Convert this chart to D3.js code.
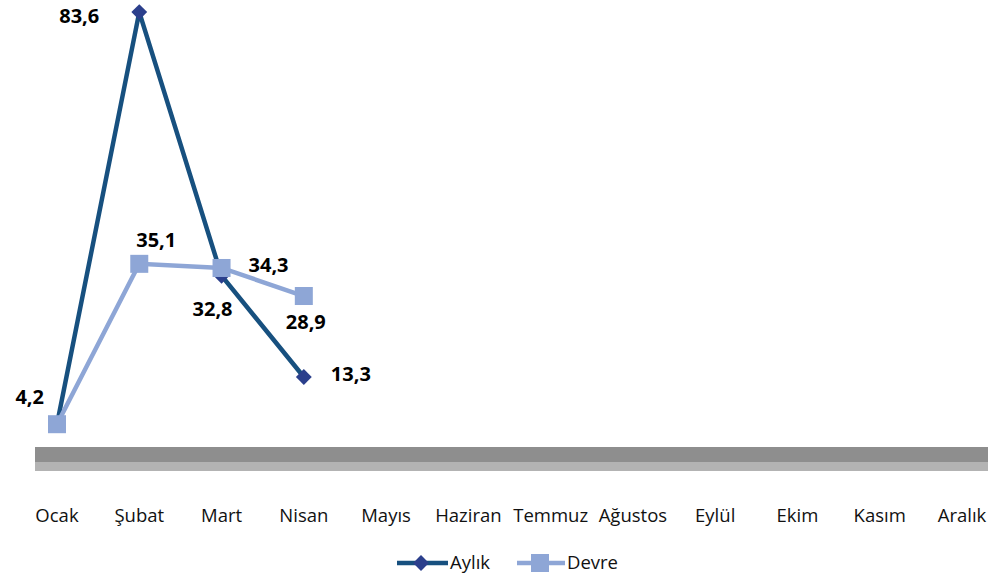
<!DOCTYPE html>
<html>
<head>
<meta charset="utf-8">
<script src="https://cdn.jsdelivr.net/npm/d3@7"></script>
<style>
  body { margin: 0; background: #fff; }
  svg { display: block; font-family: "Open Sans", "Noto Sans", sans-serif; }
</style>
</head>
<body>
<div id="chart"></div>
<script>
const months = ['Ocak', 'Şubat', 'Mart', 'Nisan', 'Mayıs', 'Haziran', 'Temmuz', 'Ağustos', 'Eylül', 'Ekim', 'Kasım', 'Aralık'];
const aylik = [4.2, 83.6, 32.8, 13.3];
const devre = [4.2, 35.1, 34.3, 28.9];
// where each value label sits relative to its point (null = no label)
const aylikLabelPos = ['aboveLeft', 'left', 'belowLeft', 'right'];
const devreLabelPos = [null, 'aboveRight', 'right', 'below'];

const width = 1002, height = 577;

const svg = d3.select('#chart')
  .append('svg')
  .attr('width', width)
  .attr('height', height);

const x = d3.scalePoint()
  .domain(months)
  .range([57, 962]);

const y = d3.scaleLinear()
  .domain([0, 90])
  .range([446, 446 - 90 * 5.19]);

// floor band
svg.append('rect').attr('x', 35).attr('y', 447).attr('width', 953).attr('height', 15).attr('fill', '#8e8e8e');
svg.append('rect').attr('x', 35).attr('y', 462).attr('width', 953).attr('height', 9).attr('fill', '#b3b3b3');

// month labels
svg.append('g')
  .selectAll('text')
  .data(months)
  .enter()
  .append('text')
  .attr('x', d => x(d))
  .attr('y', 522)
  .attr('text-anchor', 'middle')
  .style('font-size', '18.5px')
  .style('fill', '#111')
  .text(d => d);

const line = d3.line()
  .x((d, i) => x(months[i]))
  .y(d => y(d));

const fmt = v => d3.format('.1f')(v).replace('.', ',');

function labelAttrs(pos, px, py) {
  switch (pos) {
    case 'aboveLeft': return { x: px - 13, y: py - 20, anchor: 'end' };
    case 'left': return { x: px - 40, y: py + 11, anchor: 'end' };
    case 'right': return { x: px + 27, y: py + 4, anchor: 'start' };
    case 'belowLeft': return { x: px - 9, y: py + 40, anchor: 'middle' };
    case 'aboveRight': return { x: px + 17, y: py - 17, anchor: 'middle' };
    case 'below': return { x: px + 2, y: py + 33, anchor: 'middle' };
  }
}

function drawLabels(values, positions) {
  svg.append('g')
    .selectAll('text')
    .data(values.map((v, i) => ({ v, i, pos: positions[i] })).filter(d => d.pos))
    .enter()
    .append('text')
    .each(function (d) {
      const a = labelAttrs(d.pos, x(months[d.i]), y(d.v));
      d3.select(this)
        .attr('x', a.x)
        .attr('y', a.y)
        .attr('text-anchor', a.anchor);
    })
    .style('font-size', '20px')
    .style('font-weight', 'bold')
    .style('fill', '#000')
    .text(d => fmt(d.v));
}

const diamond = d3.symbol().type(d3.symbolDiamond2).size(160);

// Aylık
svg.append('path')
  .datum(aylik)
  .attr('d', line)
  .attr('fill', 'none')
  .attr('stroke', '#17507f')
  .attr('stroke-width', 4.5);

svg.append('g')
  .selectAll('path')
  .data(aylik)
  .enter()
  .append('path')
  .attr('d', diamond)
  .attr('transform', (d, i) => `translate(${x(months[i])},${y(d)})`)
  .attr('fill', '#2b3f8c');

// Devre
svg.append('path')
  .datum(devre)
  .attr('d', line)
  .attr('fill', 'none')
  .attr('stroke', '#8ea6d6')
  .attr('stroke-width', 4.5);

svg.append('g')
  .selectAll('rect')
  .data(devre)
  .enter()
  .append('rect')
  .attr('x', (d, i) => x(months[i]) - 9)
  .attr('y', d => y(d) - 9)
  .attr('width', 18)
  .attr('height', 18)
  .attr('fill', '#8ea6d6');

drawLabels(aylik, aylikLabelPos);
drawLabels(devre, devreLabelPos);

// legend
const legend = svg.append('g').attr('transform', 'translate(0,563)');
legend.append('line').attr('x1', 397).attr('x2', 448).attr('y1', 0).attr('y2', 0)
  .attr('stroke', '#17507f').attr('stroke-width', 4.5);
legend.append('path').attr('d', diamond)
  .attr('transform', 'translate(421,0)').attr('fill', '#2b3f8c');
legend.append('text').attr('x', 450).attr('y', 6).style('font-size', '18.5px').style('fill', '#111').text('Aylık');

legend.append('line').attr('x1', 517).attr('x2', 565).attr('y1', 0).attr('y2', 0)
  .attr('stroke', '#8ea6d6').attr('stroke-width', 4.5);
legend.append('rect').attr('x', 531).attr('y', -9).attr('width', 18).attr('height', 18).attr('fill', '#8ea6d6');
legend.append('text').attr('x', 567).attr('y', 6).style('font-size', '18.5px').style('fill', '#111').text('Devre');
</script>
</body>
</html>
